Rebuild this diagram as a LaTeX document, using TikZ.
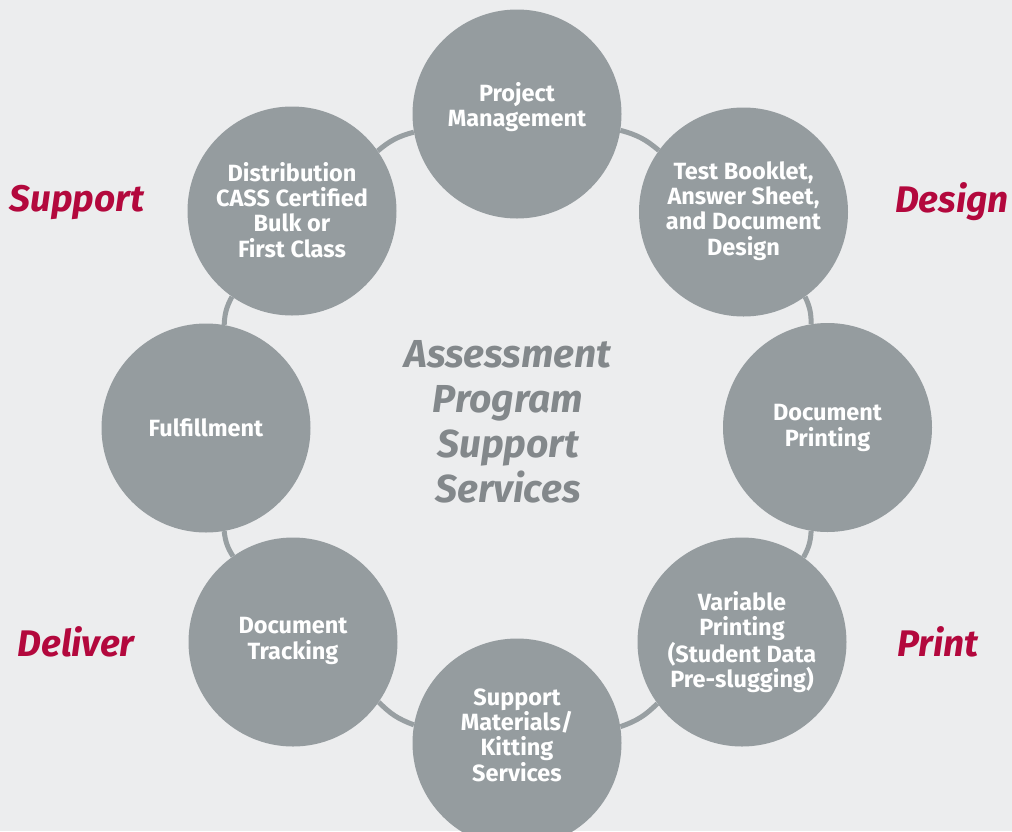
\documentclass[tikz,border=0pt]{standalone}
\usepackage{fontspec}
\setmainfont{Fira Sans}
\definecolor{bg}{HTML}{ECEDEE}
\definecolor{cgray}{HTML}{959C9F}
\definecolor{ringgray}{HTML}{989FA2}
\definecolor{crimson}{HTML}{B3083D}
\definecolor{midgray}{HTML}{83888B}
\begin{document}
\begin{tikzpicture}[x=1pt,y=-1pt,
  circ/.style={circle, fill=cgray, minimum size=209pt, inner sep=0pt},
  ctext/.style={text=white, inner sep=0pt, font=\bfseries\fontsize{23.5}{25.3}\selectfont, align=center},
  ring/.style={draw=ringgray, line width=5pt, bend left=13},
  side/.style={text=crimson, font=\bfseries\itshape\fontsize{37}{40}\selectfont},
  title/.style={text=midgray, font=\bfseries\itshape\fontsize{39}{45}\selectfont, align=center}]
\fill[bg] (0,0) rectangle (1012,831);
\useasboundingbox (0,0) rectangle (1012,831);
% circles
\node[circ] (pm) at (517,114) {};
\node[circ] (tb) at (743.5,212) {};
\node[circ] (dp) at (827.5,427.5) {};
\node[circ] (vp) at (742,642) {};
\node[circ] (sm) at (517,743) {};
\node[circ] (dt) at (293,642) {};
\node[circ] (ff) at (206,428) {};
\node[circ] (di) at (292,211) {};
% ring connectors
\draw[ring] (pm.-9.5) to (tb.144.5);
\draw[ring] (tb.-54.5) to (dp.99.5);
\draw[ring] (dp.-99.5) to (vp.54.5);
\draw[ring] (vp.-144.5) to (sm.9.5);
\draw[ring] (sm.170.5) to (dt.-35.5);
\draw[ring] (dt.125.5) to (ff.-80.5);
\draw[ring] (ff.80.5) to (di.-125.5);
\draw[ring] (di.35.5) to (pm.-170.5);
% circle texts
\node[ctext] (pmt) at (517,107) {Project\\Management};
\node[ctext] (tbt) at (743.5,211) {Test Booklet,\\Answer Sheet,\\and Document\\Design};
\node[ctext] (dpt) at (827.5,428) {Document\\Printing};
\node[ctext] (vpt) at (742,642) {Variable\\Printing\\(Student Data\\Pre-slugging)};
\node[ctext] (smt) at (517,735) {Support\\Materials/\\Kitting\\Services};
\node[ctext] (dtt) at (293,641) {Document\\Tracking};
\node[ctext] (fft) at (206,428) {Fulfillment};
\node[ctext] (dit) at (292,210) {Distribution\\CASS Certified\\Bulk or\\First Class};
% center title
\node[title] (t) at (508,422) {Assessment\\Program\\Support\\Services};
% side labels
\node[side] (ls) at (77,202) {Support};
\node[side] (ld) at (952,202) {Design};
\node[side] (lv) at (76,642) {Deliver};
\node[side] (lp) at (938,642) {Print};
\end{tikzpicture}
\end{document}
